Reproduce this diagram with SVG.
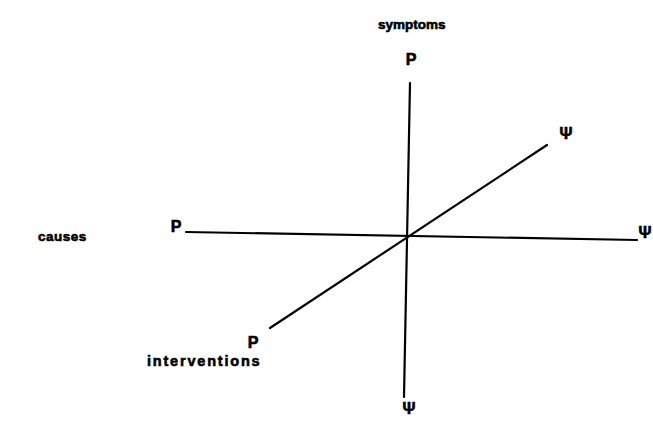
<svg xmlns="http://www.w3.org/2000/svg" width="653" height="422" viewBox="0 0 653 422">
<style>
text{font-family:"Liberation Sans",Arial,sans-serif;font-weight:bold;fill:#000;stroke:#000;stroke-width:0.6;}
.lbl{font-size:13.5px;}
.sym{font-size:16px;text-anchor:middle;}
.ax{stroke:#000;stroke-width:2.2;fill:none;stroke-linecap:round;}
</style>
<rect width="653" height="422" fill="#fff"/>
<g id="connectors">
<line class="ax" x1="410" y1="83" x2="404" y2="397"/>
<line class="ax" x1="186" y1="232" x2="637" y2="240"/>
<line class="ax" x1="270" y1="328" x2="547" y2="145"/>
</g>
<g id="symptoms"><text class="lbl" x="378" y="29">symptoms</text></g>
<g id="p-top"><text class="sym" x="411" y="65">P</text></g>
<g id="psi-upper-right"><text class="sym" x="566" y="139">Ψ</text></g>
<g id="causes"><text class="lbl" x="38" y="241" letter-spacing="0.5">causes</text></g>
<g id="p-left"><text class="sym" x="176" y="232">P</text></g>
<g id="psi-right"><text class="sym" x="645" y="238">Ψ</text></g>
<g id="p-lower-left"><text class="sym" x="253" y="348">P</text></g>
<g id="interventions"><text class="lbl" x="147" y="366" style="font-size:14.5px" letter-spacing="1.8">interventions</text></g>
<g id="psi-bottom"><text class="sym" x="409" y="414">Ψ</text></g>
</svg>
